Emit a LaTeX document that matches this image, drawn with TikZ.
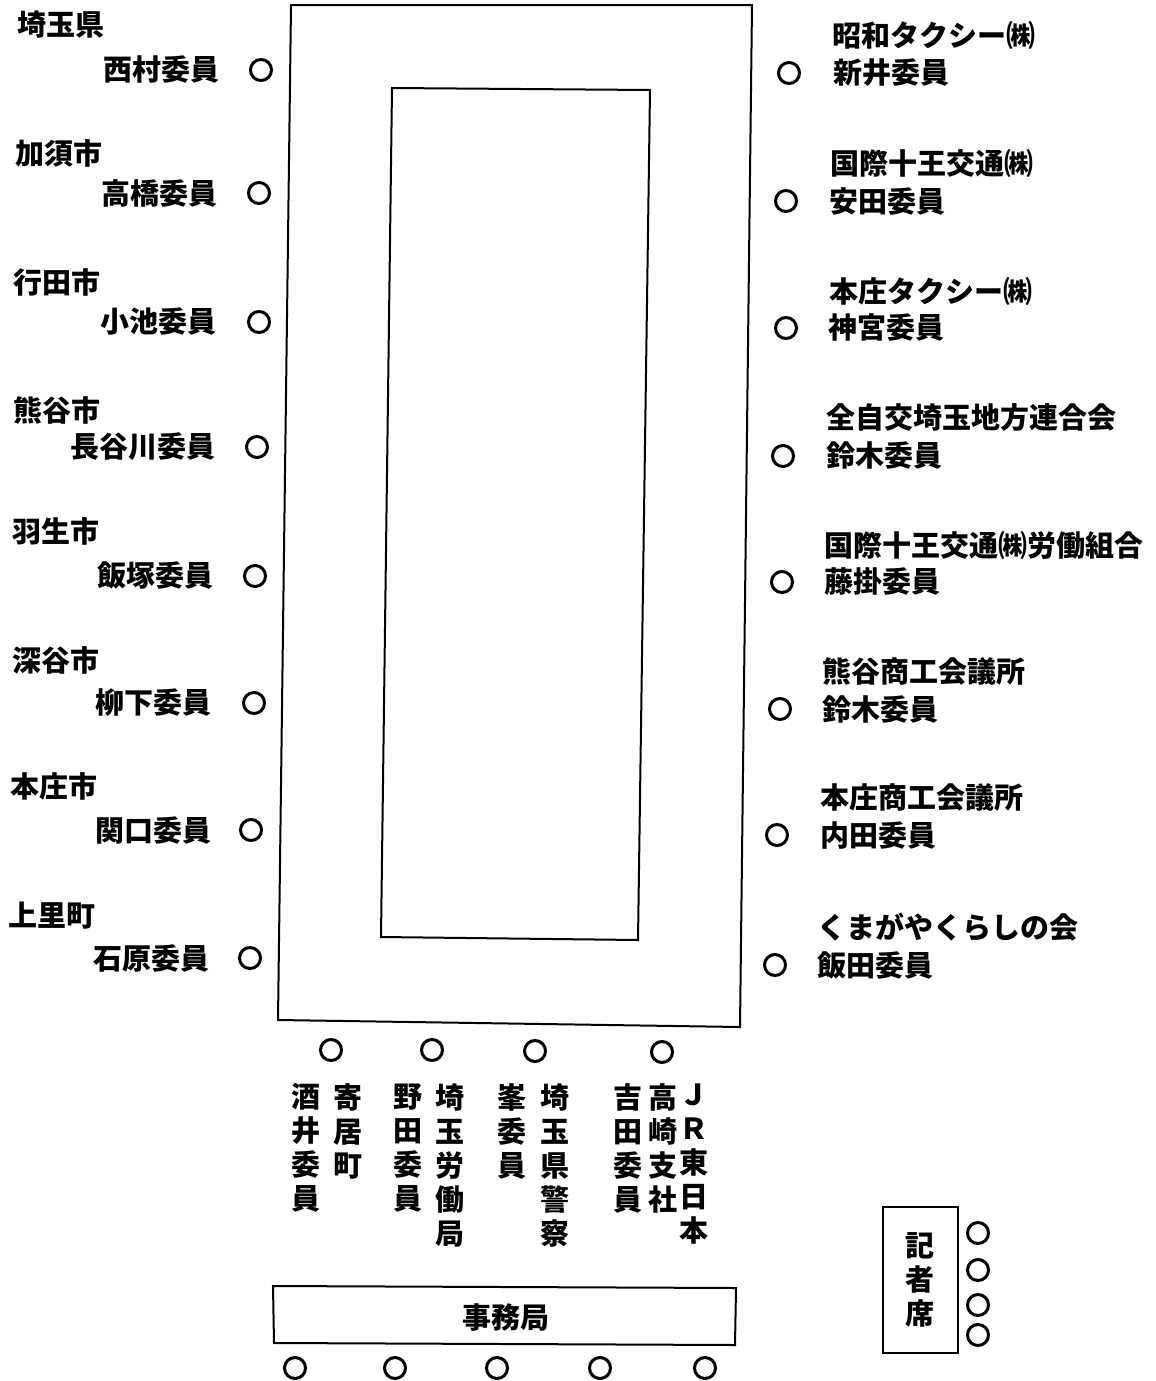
\documentclass[tikz,border=0pt]{standalone}
\usepackage{fontspec}
\newfontfamily\cjk{Noto Sans CJK JP}
\begin{document}
\begin{tikzpicture}[x=0.5pt,y=-0.5pt,
  lbl/.style={font=\cjk\bfseries\fontsize{14.5}{17}\selectfont, inner sep=0pt},
  vlbl/.style={font=\cjk\bfseries\fontsize{14.5}{17}\selectfont, inner sep=0pt, align=center, anchor=north},
  seat/.style={circle, draw, line width=1.5pt, minimum size=10.5pt, inner sep=0pt},
  tbl/.style={draw, line width=1pt}]
\path[use as bounding box, fill=white] (0,0) rectangle (1156,1381);
% tables
\draw[tbl] (291,5) -- (752,5) -- (740,1027) -- (278,1020) -- cycle;
\draw[tbl] (392,88) -- (650,90) -- (638,940) -- (381,937) -- cycle;
% left side
\foreach \org/\name/\ox/\oy/\nx/\ny/\cx/\i in {
  埼玉県/西村委員/17/25/220/70/261/1,
  加須市/高橋委員/15/153/218/193/259/2,
  行田市/小池委員/13/282/217/322/259/3,
  熊谷市/長谷川委員/13/410/216/447/257/4,
  羽生市/飯塚委員/12/531/214/576/255/5,
  深谷市/柳下委員/12/660/212/703/254/6,
  本庄市/関口委員/10/786/212/830/251/7,
  上里町/石原委員/8/916/210/958/250/8}{
  \node[lbl, anchor=west] (lo\i) at (\ox,\oy) {\org};
  \node[lbl, anchor=east] (ln\i) at (\nx,\ny) {\name};
  \node[seat] (ls\i) at (\cx,\ny) {};
}
% right side
\foreach \org/\name/\ox/\oy/\nx/\ny/\cx/\i in {
  昭和タクシー㈱/新井委員/832/35/833/73/789/1,
  国際十王交通㈱/安田委員/830/163/829/201/786/2,
  本庄タクシー㈱/神宮委員/829/291/828/328/786/3,
  全自交埼玉地方連合会/鈴木委員/826/418/826/456/783/4,
  国際十王交通㈱労働組合/藤掛委員/824/545/824/582/782/5,
  熊谷商工会議所/鈴木委員/822/671/822/709/780/6,
  本庄商工会議所/内田委員/820/797/820/835/777/7,
  くまがやくらしの会/飯田委員/817/927/817/965/775/8}{
  \node[lbl, anchor=west] (ro\i) at (\ox,\oy) {\org};
  \node[lbl, anchor=west] (rn\i) at (\nx,\ny) {\name};
  \node[seat] (rs\i) at (\cx,\ny) {};
}
% bottom seats
\node[seat] (bs1) at (331,1050) {};
\node[seat] (bs2) at (432,1050) {};
\node[seat] (bs3) at (535,1051) {};
\node[seat] (bs4) at (662,1052) {};
% vertical labels
\node[vlbl] (v1) at (306,1083) {酒\\井\\委\\員};
\node[vlbl] (v2) at (348,1083) {寄\\居\\町};
\node[vlbl] (v3) at (408,1083) {野\\田\\委\\員};
\node[vlbl] (v4) at (450,1083) {埼\\玉\\労\\働\\局};
\node[vlbl] (v5) at (512,1083) {峯\\委\\員};
\node[vlbl] (v6) at (555,1083) {埼\\玉\\県\\警\\察};
\node[vlbl] (v7) at (628,1083) {吉\\田\\委\\員};
\node[vlbl] (v8) at (663,1083) {高\\崎\\支\\社};
\node[vlbl] (v9) at (694,1083) {Ｊ\\Ｒ\\東\\日\\本};
% secretariat
\draw[tbl] (273,1286) -- (736,1288) -- (735,1345) -- (274,1343) -- cycle;
\node[lbl] (jimu) at (506,1317) {事務局};
\foreach \x [count=\k] in {295,395,497,600,705}
  \node[seat] (ss\k) at (\x,1368) {};
% press
\draw[tbl] (883,1207) rectangle (958,1353);
\node[vlbl] (press) at (920,1232) {記\\者\\席};
\foreach \y [count=\k] in {1233,1270,1305,1335}
  \node[seat] (ps\k) at (978,\y) {};
\end{tikzpicture}
\end{document}
